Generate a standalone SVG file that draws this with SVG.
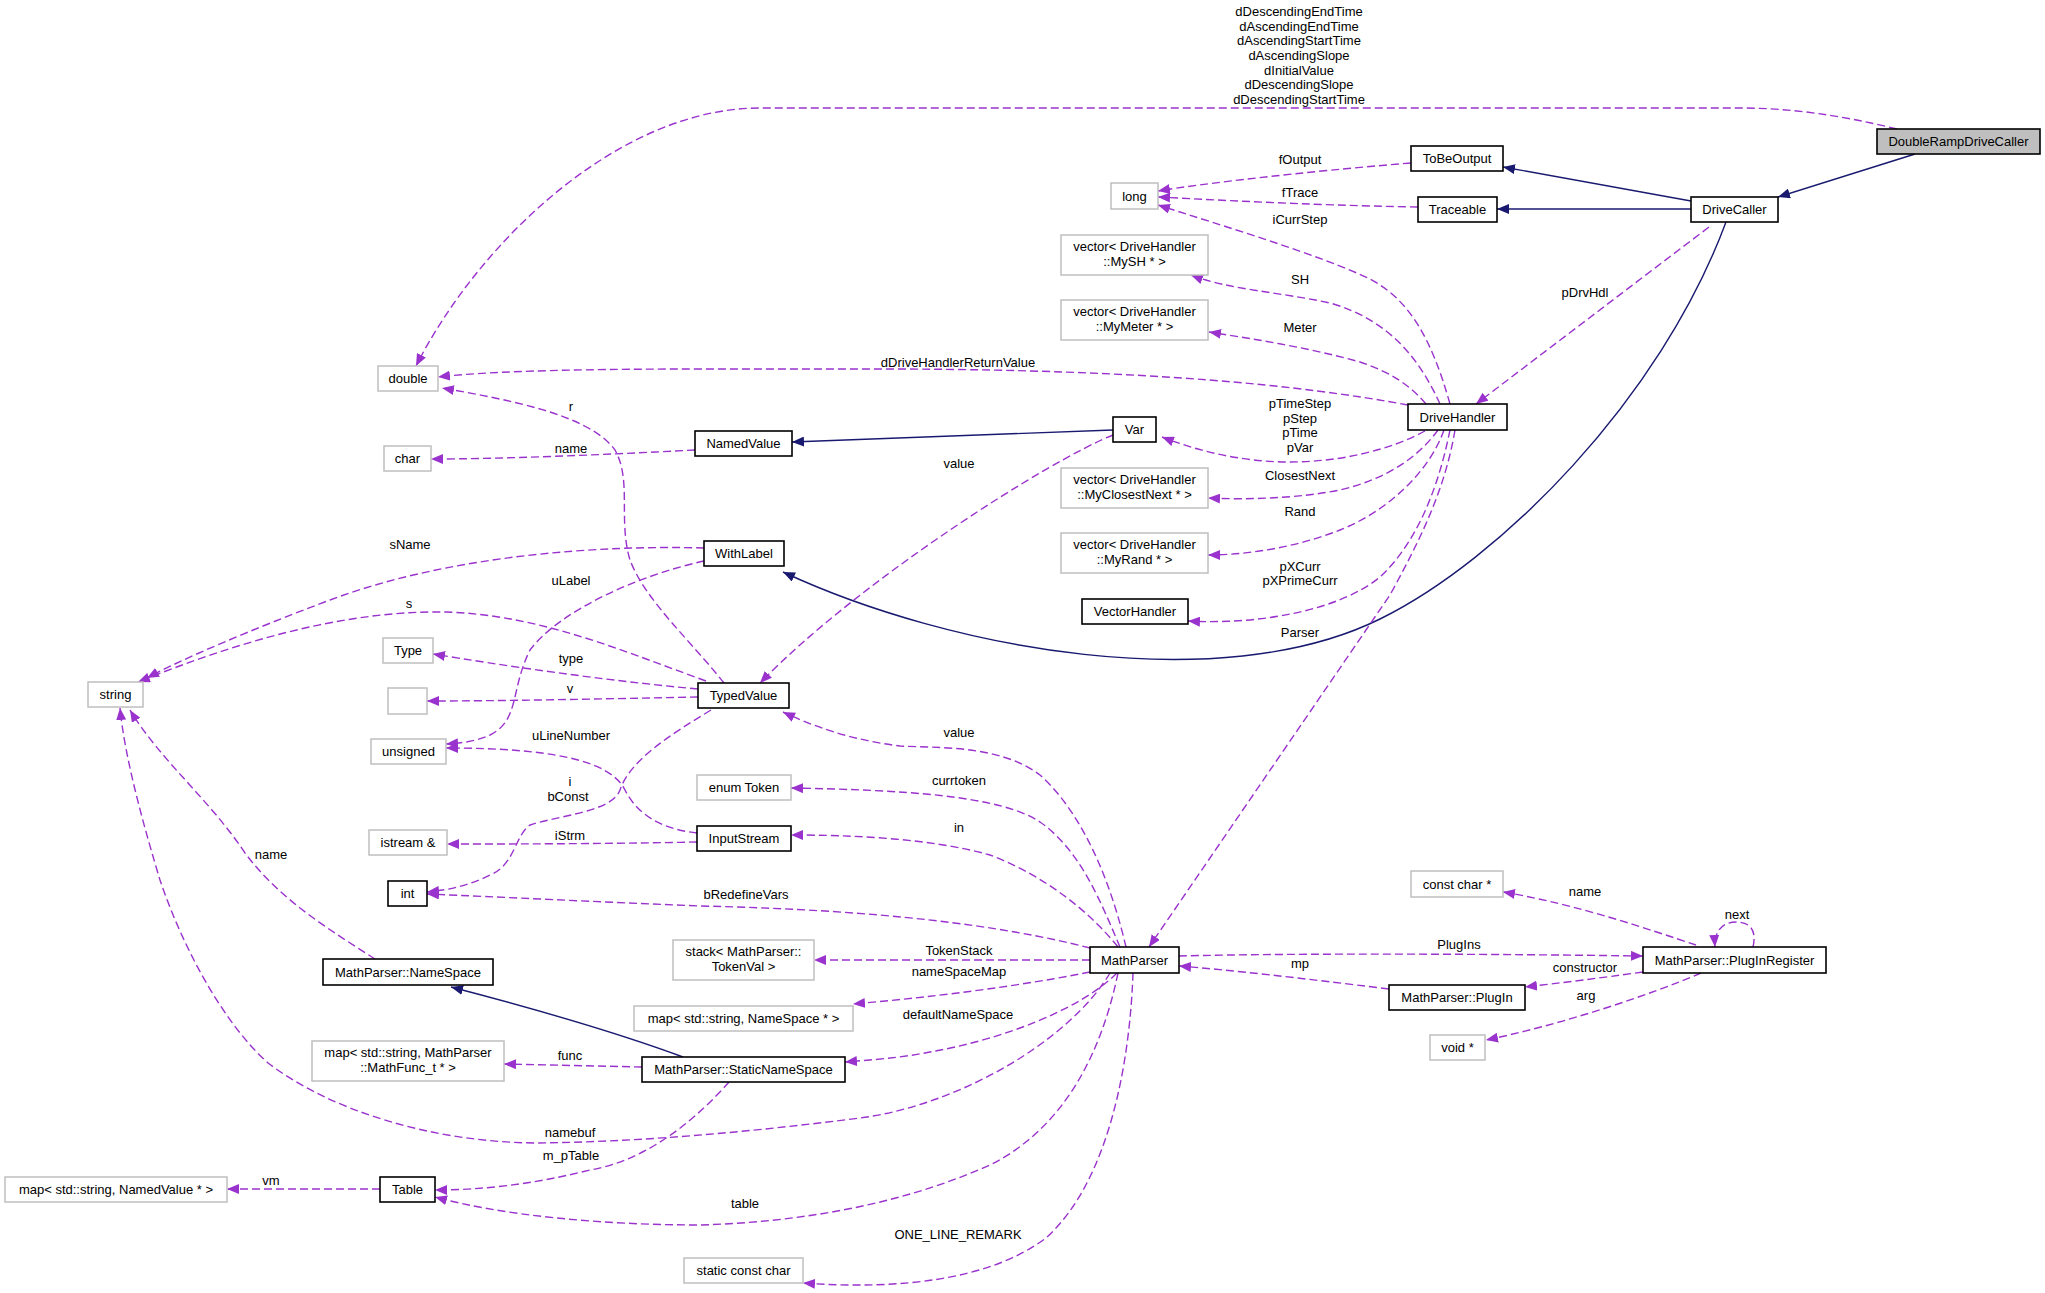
<svg xmlns="http://www.w3.org/2000/svg" width="2045" height="1293" viewBox="0 0 2045 1293">
<style>
text{font-family:"Liberation Sans",Arial,Helvetica,sans-serif;font-size:13px;fill:#000}
.nt{text-anchor:middle}
.lb{text-anchor:middle}
.n rect{fill:#fff;stroke:#000;stroke-width:1.6}
.g rect{fill:#fff;stroke:#bfbfbf;stroke-width:1.5}
.m rect{fill:#bfbfbf;stroke:#000;stroke-width:1.6}
.u{fill:none;stroke:#9a32cd;stroke-width:1.4;stroke-dasharray:8,4;marker-end:url(#ap)}
.i{fill:none;stroke:#191970;stroke-width:1.4;marker-end:url(#an)}
</style>
<defs>
<marker id="ap" markerUnits="userSpaceOnUse" viewBox="0 0 12 10" refX="12" refY="5" markerWidth="12" markerHeight="10" orient="auto" preserveAspectRatio="none"><path d="M0,0 L12,5 L0,10 z" fill="#9a32cd" stroke="none"/></marker>
<marker id="an" markerUnits="userSpaceOnUse" viewBox="0 0 12 10" refX="12" refY="5" markerWidth="12" markerHeight="10" orient="auto" preserveAspectRatio="none"><path d="M0,0 L12,5 L0,10 z" fill="#191970" stroke="none"/></marker>
</defs>
<rect width="2045" height="1293" fill="#fff"/>
<g id="edges">
<path class="u" d="M1897,129 C1840,115 1790,108 1740,108 L760,108 C620,108 480,240 416,366"/>
<path class="i" d="M1915,154 L1778,197"/>
<path class="i" d="M1691,201 L1503,167"/>
<path class="i" d="M1691,209 L1497,209"/>
<path class="i" d="M1726,222 C1660,400 1500,560 1380,619 C1220,698 950,650 783,572"/>
<path class="u" d="M1709,227 L1476,404"/>
<path class="u" d="M1411,163 C1300,172 1200,184 1158,191"/>
<path class="u" d="M1418,207 C1300,205 1200,199 1158,197"/>
<path class="u" d="M1450,404 C1432,340 1410,300 1370,279 C1320,255 1220,225 1158,205"/>
<path class="u" d="M1440,404 C1420,360 1390,320 1330,303 C1280,292 1230,290 1191,275"/>
<path class="u" d="M1426,404 C1410,385 1390,372 1360,362 C1310,348 1260,340 1209,332"/>
<path class="u" d="M1408,405 C1300,385 1150,370 900,369 L700,369 C560,369 480,372 438,377"/>
<path class="u" d="M1425,431 C1390,450 1340,462 1290,462 C1240,462 1195,450 1162,437"/>
<path class="u" d="M1438,430 C1420,455 1390,478 1340,490 C1300,498 1250,500 1208,498"/>
<path class="u" d="M1444,430 C1430,470 1390,510 1340,530 C1300,546 1250,555 1208,555"/>
<path class="u" d="M1450,430 C1440,480 1420,540 1380,577 C1340,610 1260,625 1188,621"/>
<path class="u" d="M1455,430 C1445,490 1420,540 1390,595 L1149,947"/>
<path class="u" d="M695,450 C600,455 500,459 431,459"/>
<path class="i" d="M1113,430 L792,442"/>
<path class="u" d="M1113,435 C1050,460 860,580 760,683"/>
<path class="u" d="M704,548 C600,545 450,555 330,600 C250,630 180,660 147,678"/>
<path class="u" d="M704,561 C640,575 560,610 530,650 C510,690 520,720 490,735 C475,742 460,743 446,744"/>
<path class="u" d="M724,683 C690,640 645,600 630,560 C618,520 632,480 615,450 C590,415 510,400 442,388"/>
<path class="u" d="M706,681 C620,650 540,615 446,612 C340,610 230,645 138,682"/>
<path class="u" d="M698,689 C600,680 500,665 433,654"/>
<path class="u" d="M698,697 C600,699 500,701 427,701"/>
<path class="u" d="M711,710 C670,735 630,760 620,790 C612,812 560,815 530,825 C515,835 515,865 490,875 C470,885 450,890 427,892"/>
<path class="u" d="M697,833 C670,830 640,820 625,790 C610,760 550,748 446,748"/>
<path class="u" d="M697,842 C600,844 500,844 447,844"/>
<path class="u" d="M375,959 C330,930 280,900 245,853 C210,800 160,760 130,710"/>
<path class="i" d="M683,1057 C610,1030 520,1005 451,987"/>
<path class="u" d="M642,1067 L504,1064"/>
<path class="u" d="M729,1082 C700,1115 650,1160 590,1170 C530,1185 480,1190 435,1190"/>
<path class="u" d="M380,1189 L227,1189"/>
<path class="u" d="M1110,973 C1070,1040 960,1105 860,1118 C750,1132 640,1142 536,1143 C430,1142 330,1110 268,1063 C220,1020 180,940 160,880 C145,830 125,760 120,708"/>
<path class="u" d="M1118,973 C1100,1060 1060,1130 990,1165 C900,1205 800,1222 700,1225 C600,1225 500,1215 435,1197"/>
<path class="u" d="M1133,973 C1130,1060 1110,1180 1046,1238 C990,1280 900,1290 803,1283"/>
<path class="u" d="M1090,948 C1000,925 880,910 700,906 C600,902 500,897 427,894"/>
<path class="u" d="M1090,960 L814,960"/>
<path class="u" d="M1090,972 C1000,990 900,1000 853,1004"/>
<path class="u" d="M1117,973 C1080,1010 1000,1040 930,1052 C900,1058 870,1060 845,1062"/>
<path class="u" d="M1126,947 C1115,900 1090,820 1040,775 C1000,745 940,748 900,746 C850,740 810,725 783,712"/>
<path class="u" d="M1120,947 C1100,900 1080,850 1040,822 C1000,795 900,790 791,788"/>
<path class="u" d="M1118,947 C1080,900 1030,870 990,855 C930,838 850,835 791,835"/>
<path class="u" d="M1179,956 C1300,953 1500,954 1643,956"/>
<path class="u" d="M1389,989 C1300,978 1230,970 1179,966"/>
<path class="u" d="M1696,945 C1650,930 1580,905 1503,892"/>
<path class="u" d="M1753,947 C1757,930 1750,922 1736,922 C1722,922 1714,932 1715,947"/>
<path class="u" d="M1643,972 C1600,978 1560,983 1525,987"/>
<path class="u" d="M1701,973 C1650,995 1560,1025 1486,1040"/>
<g id="edge-labels">
<text class="lb" x="1299" y="16">dDescendingEndTime</text>
<text class="lb" x="1299" y="30.5">dAscendingEndTime</text>
<text class="lb" x="1299" y="45">dAscendingStartTime</text>
<text class="lb" x="1299" y="59.5">dAscendingSlope</text>
<text class="lb" x="1299" y="74.5">dInitialValue</text>
<text class="lb" x="1299" y="89">dDescendingSlope</text>
<text class="lb" x="1299" y="103.5">dDescendingStartTime</text>
<text class="lb" x="1585" y="297">pDrvHdl</text>
<text class="lb" x="1300" y="163.5">fOutput</text>
<text class="lb" x="1300" y="197">fTrace</text>
<text class="lb" x="1300" y="223.5">iCurrStep</text>
<text class="lb" x="1300" y="283.5">SH</text>
<text class="lb" x="1300" y="331.5">Meter</text>
<text class="lb" x="958" y="366.5">dDriveHandlerReturnValue</text>
<text class="lb" x="1300" y="407.5">pTimeStep</text>
<text class="lb" x="1300" y="422.5">pStep</text>
<text class="lb" x="1300" y="437">pTime</text>
<text class="lb" x="1300" y="452">pVar</text>
<text class="lb" x="1300" y="479.5">ClosestNext</text>
<text class="lb" x="1300" y="515.5">Rand</text>
<text class="lb" x="1300" y="571">pXCurr</text>
<text class="lb" x="1300" y="585">pXPrimeCurr</text>
<text class="lb" x="1300" y="636.5">Parser</text>
<text class="lb" x="571" y="453">name</text>
<text class="lb" x="959" y="468">value</text>
<text class="lb" x="410" y="548.5">sName</text>
<text class="lb" x="571" y="585">uLabel</text>
<text class="lb" x="571" y="411">r</text>
<text class="lb" x="409" y="608">s</text>
<text class="lb" x="571" y="663">type</text>
<text class="lb" x="570" y="693">v</text>
<text class="lb" x="571" y="739.5">uLineNumber</text>
<text class="lb" x="570" y="786">i</text>
<text class="lb" x="568" y="801">bConst</text>
<text class="lb" x="570" y="840">iStrm</text>
<text class="lb" x="271" y="858.5">name</text>
<text class="lb" x="570" y="1060">func</text>
<text class="lb" x="570" y="1137">namebuf</text>
<text class="lb" x="571" y="1159.5">m_pTable</text>
<text class="lb" x="271" y="1185">vm</text>
<text class="lb" x="959" y="737">value</text>
<text class="lb" x="959" y="785">currtoken</text>
<text class="lb" x="959" y="831.5">in</text>
<text class="lb" x="746" y="898.5">bRedefineVars</text>
<text class="lb" x="959" y="955">TokenStack</text>
<text class="lb" x="959" y="976">nameSpaceMap</text>
<text class="lb" x="958" y="1018.5">defaultNameSpace</text>
<text class="lb" x="745" y="1207.5">table</text>
<text class="lb" x="958" y="1238.5">ONE_LINE_REMARK</text>
<text class="lb" x="1459" y="948.5">PlugIns</text>
<text class="lb" x="1300" y="968">mp</text>
<text class="lb" x="1585" y="896">name</text>
<text class="lb" x="1737" y="919">next</text>
<text class="lb" x="1585" y="972">constructor</text>
<text class="lb" x="1586" y="1000">arg</text>
</g>
</g>
<g id="DoubleRampDriveCaller" class="m"><rect x="1877" y="129" width="163" height="25"/><text class="nt" x="1958.5" y="146">DoubleRampDriveCaller</text></g>
<g id="DriveCaller" class="n"><rect x="1691" y="197" width="87" height="25"/><text class="nt" x="1734.5" y="214">DriveCaller</text></g>
<g id="ToBeOutput" class="n"><rect x="1411" y="146" width="92" height="25"/><text class="nt" x="1457" y="163">ToBeOutput</text></g>
<g id="Traceable" class="n"><rect x="1418" y="197" width="79" height="25"/><text class="nt" x="1457.5" y="214">Traceable</text></g>
<g id="DriveHandler" class="n"><rect x="1408" y="404" width="99" height="26"/><text class="nt" x="1457.5" y="421.5">DriveHandler</text></g>
<g id="long" class="g"><rect x="1111" y="183" width="47" height="26"/><text class="nt" x="1134.5" y="200.5">long</text></g>
<g id="double" class="g"><rect x="378" y="366" width="60" height="25"/><text class="nt" x="408" y="383">double</text></g>
<g id="vecMySH" class="g"><rect x="1061" y="235" width="147" height="40"/><text class="nt" x="1134.5" y="251">vector&lt; DriveHandler</text><text class="nt" x="1134.5" y="265.5">::MySH * &gt;</text></g>
<g id="vecMyMeter" class="g"><rect x="1061" y="300" width="147" height="40"/><text class="nt" x="1134.5" y="316">vector&lt; DriveHandler</text><text class="nt" x="1134.5" y="331">::MyMeter * &gt;</text></g>
<g id="Var" class="n"><rect x="1113" y="417" width="43" height="25"/><text class="nt" x="1134.5" y="434">Var</text></g>
<g id="NamedValue" class="n"><rect x="695" y="431" width="97" height="25"/><text class="nt" x="743.5" y="448">NamedValue</text></g>
<g id="char" class="g"><rect x="384" y="446" width="47" height="25"/><text class="nt" x="407.5" y="463">char</text></g>
<g id="vecMyClosestNext" class="g"><rect x="1061" y="468" width="147" height="40"/><text class="nt" x="1134.5" y="484">vector&lt; DriveHandler</text><text class="nt" x="1134.5" y="499">::MyClosestNext * &gt;</text></g>
<g id="WithLabel" class="n"><rect x="704" y="541" width="80" height="25"/><text class="nt" x="744" y="558">WithLabel</text></g>
<g id="vecMyRand" class="g"><rect x="1061" y="533" width="147" height="40"/><text class="nt" x="1134.5" y="549">vector&lt; DriveHandler</text><text class="nt" x="1134.5" y="564">::MyRand * &gt;</text></g>
<g id="VectorHandler" class="n"><rect x="1082" y="599" width="106" height="25"/><text class="nt" x="1135" y="616">VectorHandler</text></g>
<g id="string" class="g"><rect x="88" y="682" width="55" height="25"/><text class="nt" x="115.5" y="699">string</text></g>
<g id="Type" class="g"><rect x="383" y="638" width="50" height="25"/><text class="nt" x="408" y="655">Type</text></g>
<g id="empty" class="g"><rect x="388" y="688" width="39" height="26"/></g>
<g id="TypedValue" class="n"><rect x="698" y="683" width="91" height="25"/><text class="nt" x="743.5" y="700">TypedValue</text></g>
<g id="unsigned" class="g"><rect x="371" y="739" width="75" height="25"/><text class="nt" x="408.5" y="756">unsigned</text></g>
<g id="enumToken" class="g"><rect x="697" y="775" width="94" height="25"/><text class="nt" x="744" y="792">enum Token</text></g>
<g id="istream" class="g"><rect x="369" y="830" width="78" height="25"/><text class="nt" x="408" y="847">istream &amp;</text></g>
<g id="InputStream" class="n"><rect x="697" y="826" width="94" height="25"/><text class="nt" x="744" y="843">InputStream</text></g>
<g id="int" class="n"><rect x="388" y="881" width="39" height="25"/><text class="nt" x="407.5" y="898">int</text></g>
<g id="constcharptr" class="g"><rect x="1411" y="871" width="92" height="26"/><text class="nt" x="1457" y="888.5">const char *</text></g>
<g id="stackTokenVal" class="g"><rect x="673" y="940" width="141" height="40"/><text class="nt" x="743.5" y="956">stack&lt; MathParser::</text><text class="nt" x="743.5" y="971">TokenVal &gt;</text></g>
<g id="MathParser" class="n"><rect x="1090" y="947" width="89" height="26"/><text class="nt" x="1134.5" y="964.5">MathParser</text></g>
<g id="PlugInRegister" class="n"><rect x="1643" y="947" width="183" height="26"/><text class="nt" x="1734.5" y="964.5">MathParser::PlugInRegister</text></g>
<g id="NameSpace" class="n"><rect x="323" y="959" width="170" height="26"/><text class="nt" x="408" y="976.5">MathParser::NameSpace</text></g>
<g id="PlugIn" class="n"><rect x="1389" y="985" width="136" height="25"/><text class="nt" x="1457" y="1002">MathParser::PlugIn</text></g>
<g id="mapNameSpace" class="g"><rect x="634" y="1006" width="219" height="25"/><text class="nt" x="743.5" y="1023">map&lt; std::string, NameSpace * &gt;</text></g>
<g id="voidptr" class="g"><rect x="1430" y="1035" width="55" height="25"/><text class="nt" x="1457.5" y="1052">void *</text></g>
<g id="mapMathFunc" class="g"><rect x="312" y="1041" width="192" height="40"/><text class="nt" x="408" y="1057">map&lt; std::string, MathParser</text><text class="nt" x="408" y="1072">::MathFunc_t * &gt;</text></g>
<g id="StaticNameSpace" class="n"><rect x="642" y="1057" width="203" height="25"/><text class="nt" x="743.5" y="1074">MathParser::StaticNameSpace</text></g>
<g id="mapNamedValue" class="g"><rect x="5" y="1177" width="222" height="25"/><text class="nt" x="116" y="1194">map&lt; std::string, NamedValue * &gt;</text></g>
<g id="Table" class="n"><rect x="380" y="1177" width="55" height="25"/><text class="nt" x="407.5" y="1194">Table</text></g>
<g id="staticconstchar" class="g"><rect x="684" y="1258" width="119" height="25"/><text class="nt" x="743.5" y="1275">static const char</text></g>
</svg>
